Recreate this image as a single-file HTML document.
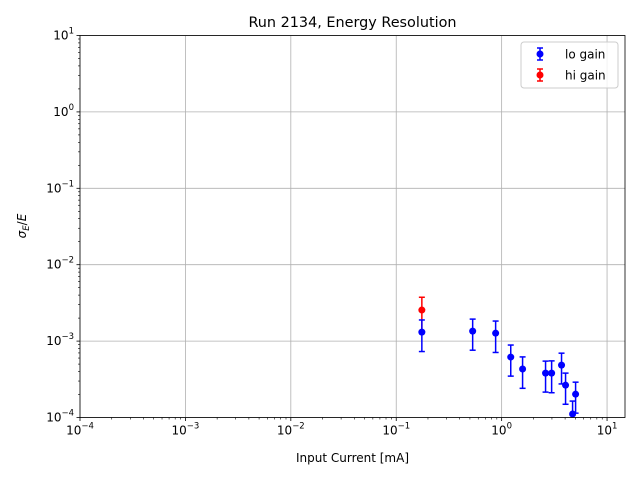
<!DOCTYPE html>
<html><head><meta charset="utf-8"><style>
body{margin:0;background:#fff;}
svg{display:block;font-family:"DejaVu Sans","Liberation Sans",sans-serif;}
</style></head><body>
<svg id="chart" width="640" height="480" xmlns="http://www.w3.org/2000/svg">
<text x="352.5" y="27" font-size="14.4" text-anchor="middle">Run 2134, Energy Resolution</text>
<text x="352.5" y="462" font-size="12" text-anchor="middle">Input Current [mA]</text>
<text transform="translate(26,226) rotate(-90)" font-size="12" text-anchor="middle"><tspan font-style="italic">σ</tspan><tspan font-style="italic" font-size="8.5" dy="3">E</tspan><tspan dy="-3">/</tspan><tspan font-style="italic">E</tspan></text>
<g id="grid"></g><g id="ticks"></g><g id="marks"></g>
<rect x="80" y="35.5" width="545" height="382" fill="none" stroke="#000" stroke-width="0.8"/>
<g>
<rect x="521" y="42" width="97" height="46" rx="3" fill="#fff" fill-opacity="0.8" stroke="#ccc"/>
<g>
<line x1="540" y1="48" x2="540" y2="60" stroke="#00f" stroke-width="1.5"/><line x1="537" y1="48" x2="543" y2="48" stroke="#00f" stroke-width="1.5"/><line x1="537" y1="60" x2="543" y2="60" stroke="#00f" stroke-width="1.5"/><circle cx="540" cy="54" r="3.5" fill="#00f"/>
<text x="565" y="58.5" font-size="12">lo gain</text></g>
<g>
<line x1="540" y1="69" x2="540" y2="81" stroke="#f00" stroke-width="1.5"/><line x1="537" y1="69" x2="543" y2="69" stroke="#f00" stroke-width="1.5"/><line x1="537" y1="81" x2="543" y2="81" stroke="#f00" stroke-width="1.5"/><circle cx="540" cy="75" r="3.5" fill="#f00"/>
<text x="565" y="79.5" font-size="12">hi gain</text></g>
</g>
</svg>
<script>
const loX=[0.175,0.531,0.877,1.22,1.58,2.61,2.98,3.70,4.04,4.71,5.03];
const loY=[1.31e-3,1.35e-3,1.27e-3,6.18e-4,4.31e-4,3.81e-4,3.81e-4,4.85e-4,2.65e-4,1.11e-4,2.02e-4];
const loErr=[5.8e-4,5.9e-4,5.6e-4,2.7e-4,1.9e-4,1.66e-4,1.7e-4,2.1e-4,1.16e-4,5.3e-5,8.8e-5];
const hiX=[0.175];
const hiY=[2.55e-3];
const hiErr=[1.2e-3];
const xTickExp=[-4,-3,-2,-1,0,1];
const yTickExp=[-4,-3,-2,-1,0,1];
const NS="http://www.w3.org/2000/svg";
const L=80,R=625,T=35.5,B=417.5;
const xmin=-4,xmax=Math.log10(14.8),ymin=-4,ymax=1;
const sx=v=>L+(Math.log10(v)-xmin)/(xmax-xmin)*(R-L);
const sy=v=>v<=0?B+50:B-(Math.log10(v)-ymin)/(ymax-ymin)*(B-T);
function mk(tag,attrs,parent){const e=document.createElementNS(NS,tag);for(const k in attrs)e.setAttribute(k,attrs[k]);parent.appendChild(e);return e;}
const grid=document.getElementById('grid'),ticks=document.getElementById('ticks'),marks=document.getElementById('marks');
xTickExp.forEach(p=>{const x=sx(Math.pow(10,p));
 const g=mk('line',{x1:x,x2:x,y1:T,y2:B,stroke:'#b0b0b0','stroke-width':0.8},grid);
 
 
 mk('line',{x1:x,x2:x,y1:B,y2:B+3.5,stroke:'#000','stroke-width':0.8},ticks);
 const t=mk('text',{x:x,y:B+17,'font-size':12,'text-anchor':'middle'},ticks);
 
 
 t.innerHTML='10<tspan font-size="8.5" dy="-6">'+(p<0?'−'+(-p):p)+'</tspan>';
 for(let m=2;m<10;m++){const v=m*Math.pow(10,p);if(Math.log10(v)>xmax)break;const xx=sx(v);mk('line',{x1:xx,x2:xx,y1:B,y2:B+2,stroke:'#000','stroke-width':0.6},ticks);}
});
yTickExp.forEach(p=>{const y=sy(Math.pow(10,p));
 const g=mk('line',{x1:L,x2:R,y1:y,y2:y,stroke:'#b0b0b0','stroke-width':0.8},grid);
 
 
 mk('line',{x1:L-3.5,x2:L,y1:y,y2:y,stroke:'#000','stroke-width':0.8},ticks);
 const t=mk('text',{x:L-6,y:y+4,'font-size':12,'text-anchor':'end'},ticks);
 
 
 t.innerHTML='10<tspan font-size="8.5" dy="-6">'+(p<0?'−'+(-p):p)+'</tspan>';
 if(p<ymax)for(let m=2;m<10;m++){const yy=sy(m*Math.pow(10,p));mk('line',{x1:L-2,x2:L,y1:yy,y2:yy,stroke:'#000','stroke-width':0.6},ticks);}
});
const clip=mk('clipPath',{id:'pc'},mk('defs',{},marks));mk('rect',{x:L,y:T,width:R-L,height:B-T},clip);
const mg=mk('g',{'clip-path':'url(#pc)'},marks);
function series(xs,ys,es,col,name){xs.forEach((xv,i)=>{
 const g=mk('g',{},mg);
 
 
 const x=sx(xv),y=sy(ys[i]),y1=sy(ys[i]+es[i]),y2=Math.min(sy(ys[i]-es[i]),B+20);
 mk('line',{x1:x,x2:x,y1:y1,y2:y2,stroke:col,'stroke-width':1.5},g);
 mk('line',{x1:x-3,x2:x+3,y1:y1,y2:y1,stroke:col,'stroke-width':1.5},g);
 mk('line',{x1:x-3,x2:x+3,y1:y2,y2:y2,stroke:col,'stroke-width':1.5},g);
 mk('circle',{cx:x,cy:y,r:3.5,fill:col},g);
});}
series(hiX,hiY,hiErr,'#ff0000','hi-gain');
series(loX,loY,loErr,'#0000ff','lo-gain');
</script>
</body></html>
